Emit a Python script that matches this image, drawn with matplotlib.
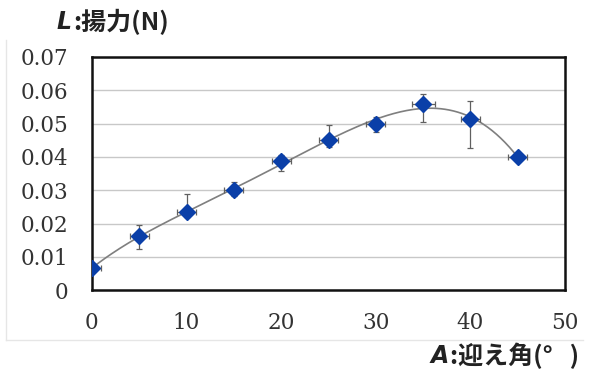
import matplotlib.pyplot as plt
import numpy as np

# measured values (angle of attack in deg, lift in N)
angle = [0, 5, 10, 15, 20, 25, 30, 35, 40, 45]
lift = [0.0066, 0.0162, 0.0234, 0.0300, 0.0387, 0.0450, 0.0500, 0.0560, 0.0513, 0.0400]
lift_hi = [0.0070, 0.0195, 0.0290, 0.0324, 0.0405, 0.0495, 0.0520, 0.0589, 0.0567, 0.0403]
lift_lo = [0.0063, 0.0123, 0.0220, 0.0282, 0.0357, 0.0430, 0.0474, 0.0504, 0.0426, 0.0397]
angle_err = [1, 1, 1, 1, 1, 1, 1, 1.2, 1, 1]

xticks = [0, 10, 20, 30, 40, 50]
yticks = [0, 0.01, 0.02, 0.03, 0.04, 0.05, 0.06, 0.07]
ytick_labels = ['0', '0.01', '0.02', '0.03', '0.04', '0.05', '0.06', '0.07']

fig = plt.figure(figsize=(5.93, 3.72), dpi=100)
ax = fig.add_axes([0.155, 0.220, 0.798, 0.627])

lift = np.array(lift)
yerr = [lift - np.array(lift_lo), np.array(lift_hi) - lift]

# polynomial trend line like the spreadsheet one
coef = np.polyfit(angle, lift, 4)
xs = np.linspace(0, 45, 200)
ax.plot(xs, np.polyval(coef, xs), color='#7f7f7f', lw=1.2, zorder=2)

ax.errorbar(angle, lift, yerr=yerr, xerr=angle_err, fmt='none',
            ecolor='#606060', elinewidth=0.9, capsize=2.5, capthick=0.9, zorder=3)
ax.plot(angle, lift, 'D', color='#0a3fa8', markersize=8, markeredgecolor='#0a3fa8', zorder=4)

ax.set_xlim(0, 50)
ax.set_ylim(0, 0.07)
ax.set_xticks(xticks)
ax.set_yticks(yticks)
ax.set_yticklabels(ytick_labels)
ax.grid(axis='y', color='#c8c8c8', lw=1.0)
ax.set_axisbelow(True)
ax.tick_params(length=0, labelsize=15.5, colors='#333333')
ax.tick_params(axis='y', pad=17)
ax.tick_params(axis='x', pad=16)
for lab in ax.get_xticklabels() + ax.get_yticklabels():
    lab.set_family('DejaVu Serif')
for s in ax.spines.values():
    s.set_linewidth(1.8)
    s.set_color('#111111')

jp = ['Noto Sans CJK JP', 'DejaVu Sans']
rend = fig.canvas.get_renderer()


def label(x0, y0, letter, rest):
    t = fig.text(x0 / 593, 1 - y0 / 372, letter, style='italic', weight='bold',
                 fontsize=17, family='DejaVu Sans', color='#222222', va='center')
    w = t.get_window_extent(rend).width
    fig.text((x0 + w + 1) / 593, 1 - y0 / 372, rest, weight='bold', fontsize=18,
             family=jp, color='#222222', va='center')


label(57, 22, 'L', ':揚力(N)')
label(431, 356, 'A', ':迎え角(°   )')

# faint frame of the chart area
fl = dict(color='#e6e6e6', lw=1.0, transform=fig.transFigure)
fig.lines.append(plt.Line2D([6 / 593, 6 / 593], [1 - 40 / 372, 1 - 340 / 372], **fl))
fig.lines.append(plt.Line2D([6 / 593, 583 / 593], [1 - 340 / 372, 1 - 340 / 372], **fl))

fig.savefig('out.png', dpi=100, facecolor='white')
